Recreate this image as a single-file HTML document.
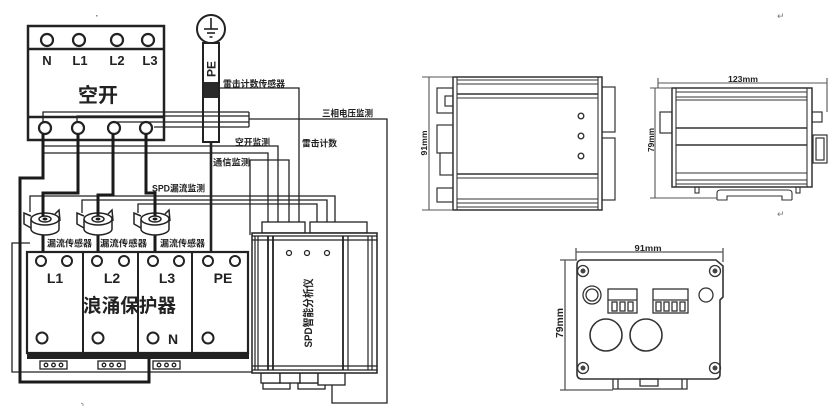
<!DOCTYPE html>
<html><head><meta charset="utf-8">
<style>
html,body{margin:0;padding:0;background:#fff;}
svg{display:block;}
text{font-family:"Liberation Sans","Noto Sans CJK SC",sans-serif;fill:#222;}
</style></head>
<body>
<svg width="837" height="419" viewBox="0 0 837 419" xmlns="http://www.w3.org/2000/svg">
<rect width="837" height="419" fill="#fff"/>

<!-- ============ LEFT WIRING DIAGRAM ============ -->
<g fill="none" stroke="#222" stroke-width="1.3">
  <!-- three-phase voltage monitoring -->
  <polyline points="43,122 43,112 249,112"/>
  <polyline points="77,122 77,116 249,116"/>
  <polyline points="117,122 249,122"/>
  <polyline points="154,127 249,127"/>
  <line x1="249" y1="112" x2="249" y2="127"/>
  <polyline points="249,119 387,119 387,403 332,403 332,385"/>
  <!-- breaker monitoring -->
  <polyline points="43,146 278,146 278,222"/>
  <polyline points="43,153 268,153 268,222"/>
  <!-- comms monitoring -->
  <polyline points="250,235 250,160 289,160 289,222"/>
  <!-- lightning counter -->
  <polyline points="219,88 299,88 299,222"/>
  <!-- leakage monitoring -->
  <polyline points="30,212 30,196 335,196 335,222"/>
  <polyline points="82,213 82,200 327,200 327,222"/>
  <polyline points="138,213 138,204 317,204 317,222"/>
  <!-- outer thin loop -->
  <polyline points="30,243 12,243 12,372 252,372"/>
</g>

<!-- PE ground + bar -->
<g fill="none" stroke="#222">
  <circle cx="211" cy="29" r="14" stroke-width="2"/>
  <line x1="211" y1="18" x2="211" y2="29" stroke-width="1.6"/>
  <line x1="204" y1="29" x2="218" y2="29" stroke-width="1.6"/>
  <line x1="207" y1="33" x2="215" y2="33" stroke-width="1.6"/>
  <line x1="209.5" y1="37" x2="212.5" y2="37" stroke-width="1.6"/>
  <rect x="203" y="43" width="16" height="99" stroke-width="2"/>
  <line x1="211" y1="142" x2="211" y2="252" stroke-width="2.6"/>
</g>
<rect x="204" y="82" width="14" height="16" fill="#2a2a2a"/>
<text transform="translate(215.5,69) rotate(-90)" text-anchor="middle" font-size="12" font-weight="bold">PE</text>

<!-- 空开 breaker -->
<g fill="none" stroke="#222">
  <rect x="28" y="26" width="136" height="114" stroke-width="2.5"/>
  <line x1="28" y1="49" x2="164" y2="49" stroke-width="2.5"/>
  <line x1="28" y1="117" x2="164" y2="117" stroke-width="2.5"/>
  <g stroke-width="2.2">
    <circle cx="47" cy="40" r="6"/><circle cx="79" cy="40" r="6"/>
    <circle cx="117" cy="40" r="6"/><circle cx="148" cy="40" r="6"/>
    <circle cx="45" cy="128" r="6"/><circle cx="78" cy="128" r="6"/>
    <circle cx="114" cy="128" r="6"/><circle cx="146" cy="128" r="6"/>
  </g>
</g>
<g font-size="13" font-weight="bold" text-anchor="middle">
  <text x="47" y="65">N</text><text x="80" y="65">L1</text>
  <text x="117" y="65">L2</text><text x="150" y="65">L3</text>
</g>
<text x="98" y="102" font-size="20" font-weight="bold" text-anchor="middle">空开</text>

<!-- thick phase wires -->
<g fill="none" stroke="#1a1a1a" stroke-width="3">
  <polyline points="43,134 43,178 20,178 20,382 149,382 149,358"/>
  <polyline points="78,134 78,193 43,193 43,219"/>
  <polyline points="113,134 113,195 98,195 98,219"/>
  <polyline points="146,134 146,193 155,193 155,219"/>
  <line x1="43" y1="234" x2="43" y2="252"/>
  <line x1="98" y1="234" x2="98" y2="252"/>
  <line x1="155" y1="234" x2="155" y2="252"/>
</g>

<!-- current sensors -->
<g fill="#fff" stroke="#222" stroke-width="1.5">
  <g transform="translate(45,219)">
    <path d="M-14,0 V10 A14,6 0 0 0 14,10 V0"/>
    <ellipse cx="0" cy="0" rx="14" ry="6"/>
    <ellipse cx="0" cy="0" rx="6" ry="3"/>
    <path d="M-14,-3 L-21,-6 V5 L-14,9" fill="none"/>
    <path d="M10,-5 L14,-9 L15,2" fill="none"/>
  </g>
  <g transform="translate(98,219)">
    <path d="M-14,0 V10 A14,6 0 0 0 14,10 V0"/>
    <ellipse cx="0" cy="0" rx="14" ry="6"/>
    <ellipse cx="0" cy="0" rx="6" ry="3"/>
    <path d="M-14,-3 L-21,-6 V5 L-14,9" fill="none"/>
    <path d="M10,-5 L14,-9 L15,2" fill="none"/>
  </g>
  <g transform="translate(155,219)">
    <path d="M-14,0 V10 A14,6 0 0 0 14,10 V0"/>
    <ellipse cx="0" cy="0" rx="14" ry="6"/>
    <ellipse cx="0" cy="0" rx="6" ry="3"/>
    <path d="M-14,-3 L-21,-6 V5 L-14,9" fill="none"/>
    <path d="M10,-5 L14,-9 L15,2" fill="none"/>
  </g>
</g>
<g fill="#1a1a1a">
  <ellipse cx="45" cy="219" rx="2.5" ry="1.5"/>
  <ellipse cx="98" cy="219" rx="2.5" ry="1.5"/>
  <ellipse cx="155" cy="219" rx="2.5" ry="1.5"/>
</g>
<g stroke="#1a1a1a" stroke-width="3">
  <line x1="43" y1="193" x2="43" y2="216"/>
  <line x1="98" y1="195" x2="98" y2="216"/>
  <line x1="155" y1="193" x2="155" y2="216"/>
</g>

<!-- labels -->
<g font-size="9" font-weight="bold" fill="#333" style="fill:#333">
  <text x="223" y="87" textLength="62" lengthAdjust="spacingAndGlyphs">雷击计数传感器</text>
  <text x="322" y="116.5" textLength="51" lengthAdjust="spacingAndGlyphs">三相电压监测</text>
  <text x="302" y="146.5" textLength="35" lengthAdjust="spacingAndGlyphs">雷击计数</text>
  <text x="235" y="145.5" textLength="35" lengthAdjust="spacingAndGlyphs">空开监测</text>
  <text x="213" y="165.5" textLength="37" lengthAdjust="spacingAndGlyphs">通信监测</text>
  <text x="152" y="191.5" textLength="53" lengthAdjust="spacingAndGlyphs">SPD漏流监测</text>
  <text x="47" y="246.5" textLength="45" lengthAdjust="spacingAndGlyphs">漏流传感器</text>
  <text x="100" y="246.5" textLength="47" lengthAdjust="spacingAndGlyphs">漏流传感器</text>
  <text x="160" y="246.5" textLength="45" lengthAdjust="spacingAndGlyphs">漏流传感器</text>
</g>

<!-- SPD module 浪涌保护器 -->
<g fill="none" stroke="#222">
  <rect x="27" y="252" width="221" height="101" stroke-width="2.2"/>
  <line x1="83" y1="252" x2="83" y2="353" stroke-width="2"/>
  <line x1="138" y1="252" x2="138" y2="353" stroke-width="2"/>
  <line x1="192" y1="252" x2="192" y2="353" stroke-width="2"/>
  <g stroke-width="2">
    <circle cx="41" cy="261" r="5"/><circle cx="67" cy="261" r="5"/>
    <circle cx="97" cy="261" r="5"/><circle cx="124" cy="261" r="5"/>
    <circle cx="153" cy="261" r="5"/><circle cx="179" cy="261" r="5"/>
    <circle cx="208" cy="261" r="5"/><circle cx="235" cy="261" r="5"/>
    <circle cx="42" cy="338" r="5.5"/><circle cx="98" cy="338" r="5.5"/>
    <circle cx="153" cy="338" r="5.5"/><circle cx="208" cy="338" r="5.5"/>
  </g>
</g>
<rect x="27" y="352" width="222" height="7" fill="#222"/>
<g font-size="14" font-weight="bold" text-anchor="middle">
  <text x="55" y="283">L1</text><text x="112" y="283">L2</text>
  <text x="167" y="283">L3</text><text x="223" y="283">PE</text>
  <text x="173" y="344">N</text>
</g>
<text x="83" y="312" font-size="19" font-weight="bold" textLength="93" lengthAdjust="spacingAndGlyphs">浪涌保护器</text>
<!-- terminal blocks -->
<g fill="#fff" stroke="#222" stroke-width="1.3">
  <rect x="40" y="361" width="27" height="8"/>
  <rect x="98" y="361" width="27" height="8"/>
  <rect x="153" y="361" width="27" height="8"/>
  <circle cx="46" cy="365" r="1.8"/><circle cx="53.5" cy="365" r="1.8"/><circle cx="61" cy="365" r="1.8"/>
  <circle cx="104" cy="365" r="1.8"/><circle cx="111.5" cy="365" r="1.8"/><circle cx="119" cy="365" r="1.8"/>
  <circle cx="159" cy="365" r="1.8"/><circle cx="166.5" cy="365" r="1.8"/><circle cx="174" cy="365" r="1.8"/>
</g>

<!-- SPD analyzer -->
<g fill="#fff" stroke="#222" stroke-width="1.3">
  <rect x="262" y="222" width="43" height="11"/>
  <rect x="310" y="222" width="57" height="11"/>
  <rect x="263" y="383" width="27" height="6"/>
  <rect x="298" y="383" width="27" height="6"/>
  <rect x="261" y="373" width="19" height="10"/>
  <rect x="280" y="373" width="20" height="10"/>
  <rect x="300" y="373" width="18" height="10"/>
  <rect x="318" y="373" width="27" height="12"/>
  <rect x="252" y="233" width="125" height="140" stroke-width="1.5"/>
</g>
<g stroke="#222" fill="none" stroke-width="1.2">
  <line x1="252" y1="236" x2="377" y2="236"/>
  <line x1="252" y1="240" x2="377" y2="240"/>
  <line x1="252" y1="366" x2="377" y2="366"/>
  <line x1="252" y1="370" x2="377" y2="370"/>
  <line x1="255" y1="236" x2="255" y2="370"/>
  <line x1="258" y1="236" x2="258" y2="370"/>
  <line x1="268" y1="236" x2="268" y2="370" stroke-width="1.8"/>
  <line x1="273" y1="236" x2="273" y2="370" stroke-width="1.8"/>
  <line x1="343" y1="236" x2="343" y2="370" stroke-width="1.8"/>
  <line x1="348" y1="236" x2="348" y2="370"/>
  <line x1="368" y1="236" x2="368" y2="370"/>
  <line x1="372" y1="236" x2="372" y2="370"/>
  <circle cx="289" cy="253" r="2.5"/><circle cx="307" cy="253" r="2.5"/><circle cx="327" cy="253" r="2.5"/>
</g>
<text transform="translate(312,313) rotate(-90)" text-anchor="middle" font-size="11" font-weight="bold" textLength="69" lengthAdjust="spacingAndGlyphs">SPD智能分析仪</text>

<!-- small marks -->
<rect x="96" y="15" width="1.5" height="1.5" fill="#888"/>
<path d="M81,403 l2,1 v2" stroke="#888" fill="none" stroke-width="0.8"/>

<!-- ============ FRONT VIEW ============ -->
<g fill="#fff" stroke="#333" stroke-width="1.2">
  <rect x="437" y="88" width="16" height="25"/>
  <rect x="445" y="96" width="8" height="10"/>
  <rect x="437" y="125" width="16" height="28"/>
  <rect x="440" y="153" width="13" height="22"/>
  <rect x="437" y="188" width="16" height="14"/>
  <rect x="602" y="87" width="13" height="45"/>
  <rect x="602" y="138" width="13" height="62"/>
  <rect x="453" y="77" width="149" height="133" stroke-width="1.5"/>
</g>
<g stroke="#333" fill="none" stroke-width="1.1">
  <line x1="457" y1="77" x2="457" y2="210"/>
  <line x1="598" y1="77" x2="598" y2="210"/>
  <line x1="457" y1="80" x2="598" y2="80"/>
  <line x1="457" y1="84" x2="598" y2="84"/>
  <line x1="457" y1="94" x2="598" y2="94" stroke-width="1.5"/>
  <line x1="457" y1="98" x2="598" y2="98"/>
  <line x1="457" y1="174" x2="598" y2="174" stroke-width="1.5"/>
  <line x1="457" y1="178" x2="598" y2="178"/>
  <line x1="457" y1="199" x2="598" y2="199"/>
  <line x1="457" y1="203" x2="598" y2="203"/>
  <line x1="457" y1="207" x2="598" y2="207"/>
  <circle cx="581" cy="116" r="2.8" stroke-width="1.4"/>
  <circle cx="581" cy="136" r="2.8" stroke-width="1.4"/>
  <circle cx="581" cy="156" r="2.8" stroke-width="1.4"/>
  <!-- dimension -->
  <line x1="429" y1="77" x2="429" y2="210" stroke="#555"/>
  <line x1="422" y1="77" x2="453" y2="77" stroke="#555"/>
  <line x1="422" y1="210" x2="453" y2="210" stroke="#555"/>
</g>
<text transform="translate(427,143) rotate(-90)" text-anchor="middle" font-size="8" font-weight="bold" textLength="25" lengthAdjust="spacingAndGlyphs">91mm</text>

<!-- ============ SIDE VIEW ============ -->
<g fill="#fff" stroke="#333" stroke-width="1.2">
  <rect x="660" y="112" width="12" height="21"/>
  <rect x="812" y="112" width="10" height="10"/>
  <rect x="813" y="135" width="14" height="28"/>
  <rect x="816" y="138" width="8" height="22"/>
  <rect x="672" y="88" width="140" height="99" stroke-width="1.5"/>
</g>
<g stroke="#333" fill="none" stroke-width="1.1">
  <line x1="676" y1="88" x2="676" y2="187"/>
  <line x1="807" y1="88" x2="807" y2="187"/>
  <line x1="676" y1="92" x2="807" y2="92"/>
  <line x1="676" y1="97" x2="807" y2="97"/>
  <line x1="676" y1="100" x2="807" y2="100"/>
  <line x1="676" y1="128" x2="807" y2="128" stroke-width="1.4"/>
  <line x1="676" y1="145" x2="807" y2="145" stroke-width="1.4"/>
  <line x1="676" y1="173" x2="807" y2="173"/>
  <line x1="676" y1="180" x2="807" y2="180"/>
  <line x1="676" y1="184" x2="807" y2="184"/>
  <!-- DIN clip -->
  <rect x="695" y="187" width="4" height="6"/>
  <rect x="796" y="187" width="4" height="6"/>
  <path d="M717,200 V193 Q717,190 721,190 H788 Q792,190 792,193 V200 M717,200 H727 V196 H782 V200 H792"/>
  <!-- dimensions -->
  <line x1="658" y1="83" x2="827" y2="83" stroke="#555"/>
  <line x1="658" y1="78" x2="658" y2="88" stroke="#555"/>
  <line x1="827" y1="78" x2="827" y2="112" stroke="#555"/>
  <line x1="655" y1="88" x2="655" y2="198" stroke="#555"/>
  <line x1="650" y1="88" x2="672" y2="88" stroke="#555"/>
  <line x1="650" y1="198" x2="717" y2="198" stroke="#555"/>
</g>
<text x="743" y="82" text-anchor="middle" font-size="8" font-weight="bold" textLength="30" lengthAdjust="spacingAndGlyphs">123mm</text>
<text transform="translate(654,140) rotate(-90)" text-anchor="middle" font-size="8" font-weight="bold" textLength="24" lengthAdjust="spacingAndGlyphs">79mm</text>

<text x="777" y="19" font-size="9" style="fill:#777" font-family="DejaVu Sans">↵</text>
<text x="777" y="217" font-size="9" style="fill:#777" font-family="DejaVu Sans">↵</text>

<!-- ============ BACK VIEW ============ -->
<g fill="none" stroke="#333" stroke-width="1.3">
  <path d="M582,260 H716 L723,266 V297 L720,300 V374 Q720,379 715,379 H582 Q577,379 577,374 V265 Q577,260 582,260 Z" stroke-width="1.6"/>
  <circle cx="583" cy="271" r="5.5"/><circle cx="715" cy="271" r="5.5"/>
  <circle cx="583" cy="368" r="5.5"/><circle cx="715" cy="368" r="5.5"/>
  <circle cx="592" cy="295" r="9"/><circle cx="592" cy="295" r="6"/>
  <circle cx="706" cy="295" r="7"/>
  <circle cx="606" cy="335" r="16" stroke-width="1.6"/>
  <circle cx="646" cy="335" r="16" stroke-width="1.6"/>
  <!-- connector 1 -->
  <rect x="608" y="289" width="29" height="24"/>
  <line x1="608" y1="300" x2="637" y2="300"/>
  <rect x="612" y="302" width="5" height="9"/>
  <rect x="620" y="302" width="5" height="9"/>
  <rect x="628" y="302" width="5" height="9"/>
  <!-- connector 2 -->
  <rect x="653" y="289" width="35" height="24"/>
  <line x1="653" y1="300" x2="688" y2="300"/>
  <rect x="656" y="302" width="5" height="9"/>
  <rect x="664" y="302" width="5" height="9"/>
  <rect x="672" y="302" width="5" height="9"/>
  <rect x="680" y="302" width="5" height="9"/>
  <!-- DIN -->
  <path d="M613,379 V389 H687 V379 M618,379 V389 M682,379 V389"/>
  <rect x="640" y="379" width="18" height="7"/>
  <!-- dimensions -->
  <line x1="576" y1="252" x2="723" y2="252" stroke="#555"/>
  <line x1="576" y1="248" x2="576" y2="260" stroke="#555"/>
  <line x1="723" y1="248" x2="723" y2="262" stroke="#555"/>
  <line x1="565" y1="260" x2="565" y2="390" stroke="#555"/>
  <line x1="560" y1="260" x2="577" y2="260" stroke="#555"/>
  <line x1="560" y1="390" x2="613" y2="390" stroke="#555"/>
</g>
<g fill="#444">
  <circle cx="583" cy="271" r="2.5"/><circle cx="715" cy="271" r="2.5"/>
  <circle cx="583" cy="368" r="2.5"/><circle cx="715" cy="368" r="2.5"/>
</g>
<text x="648" y="251" text-anchor="middle" font-size="8.5" font-weight="bold" textLength="27" lengthAdjust="spacingAndGlyphs">91mm</text>
<text transform="translate(563,323) rotate(-90)" text-anchor="middle" font-size="10" font-weight="bold" textLength="30" lengthAdjust="spacingAndGlyphs">79mm</text>

</svg>
</body></html>
